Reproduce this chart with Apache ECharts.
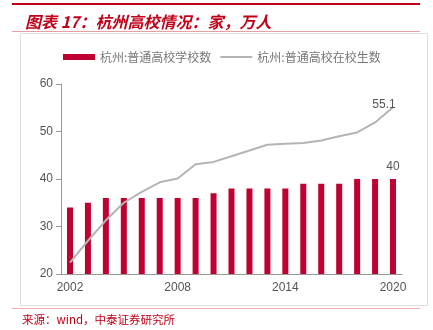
<!DOCTYPE html>
<html><head><meta charset="utf-8">
<script src="https://cdn.jsdelivr.net/npm/echarts@6/dist/echarts.min.js"></script>
<style>html,body{margin:0;padding:0;background:#fff}#c{width:433px;height:330px}</style>
</head><body><div id="c"></div>
<script>
const years = ['2002','2003','2004','2005','2006','2007','2008','2009','2010','2011','2012','2013','2014','2015','2016','2017','2018','2019','2020'];
const schools = [34,35,36,36,36,36,36,36,37,38,38,38,38,39,39,39,40,40,40];
const students = [22.4,27,31.3,35,37.3,39.3,40.1,43.1,43.6,44.8,46,47.2,47.4,47.6,48.1,49,49.8,51.9,55.1];
const yTicks = [20,30,40,50,60];
const titleText = '图表 17：杭州高校情况：家，万人';
const sourceText = '来源：wind，中泰证券研究所';
const name1 = '杭州:普通高校学校数';
const name2 = '杭州:普通高校在校生数';

const chart = echarts.init(document.getElementById('c'), null, {renderer:'canvas'});
const last = years.length - 1;
chart.setOption({
  animation:false,
  title:{text:titleText,left:20,top:9,textStyle:{color:'#c00018',fontSize:16,fontStyle:'italic',fontWeight:'bold',fontFamily:'Noto Sans CJK SC'}},
  graphic:[
    {type:'rect',shape:{x:12,y:3,width:408,height:2},style:{fill:'#c00018'},silent:true},
    {type:'rect',shape:{x:12,y:31,width:408,height:1},style:{fill:'#e8a0a0'},silent:true},
    {type:'rect',shape:{x:20.5,y:33.5,width:407,height:272},style:{fill:'none',stroke:'#dddddd',lineWidth:1},silent:true},
    {type:'rect',shape:{x:12,y:308,width:408,height:1},style:{fill:'#f0b0b0'},silent:true},
    {type:'text',left:22,top:314,style:{text:sourceText,fill:'#c00018',font:'11.5px "Noto Sans CJK SC"'}}
  ],
  legend:{top:46,left:58,itemGap:8,itemWidth:32,itemHeight:6,
    textStyle:{color:'#777',fontSize:12,fontFamily:'Noto Sans CJK SC'},
    data:[{name:name1,icon:'rect'},{name:name2,itemStyle:{opacity:0}}]},
  grid:{left:61,right:31,top:84,bottom:56},
  xAxis:{type:'category',data:years,boundaryGap:true,
    axisLine:{lineStyle:{color:'#999'}},
    axisTick:{interval:5,alignWithLabel:false,lineStyle:{color:'#999'}},
    axisLabel:{interval:5,color:'#555',fontSize:12,fontFamily:'Liberation Sans',margin:8}},
  yAxis:{type:'value',min:20,max:60,interval:10,
    axisLine:{show:true,lineStyle:{color:'#999'}},
    axisTick:{show:true,lineStyle:{color:'#999'}},
    splitLine:{show:false},
    axisLabel:{color:'#555',fontSize:12,fontFamily:'Liberation Sans',
      formatter:v=>yTicks.includes(v)?String(v):''}},
  series:[
    {name:name1,type:'bar',data:schools.map((v,i)=>i===last?{value:v,label:{show:true,position:'top',color:'#555',fontSize:12,fontFamily:'Liberation Sans',distance:6}}:v),
      barWidth:6,itemStyle:{color:'#c00030'}},
    {name:name2,type:'line',data:students.map((v,i)=>i===last?{value:v,label:{show:true,position:'top',offset:[-9,5],color:'#555',fontSize:12,fontFamily:'Liberation Sans',distance:2}}:v),
      symbol:'circle',symbolSize:0.1,showSymbol:true,lineStyle:{color:'#b4b4b4',width:2},itemStyle:{color:'#b4b4b4'},z:3}
  ]
});
</script></body></html>
